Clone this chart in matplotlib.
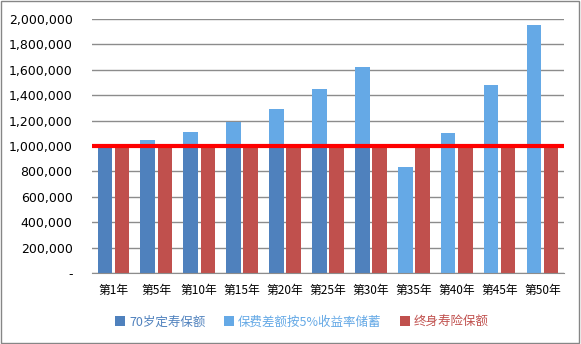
import numpy as np
import matplotlib.pyplot as plt
from matplotlib.patches import Rectangle

plt.rcParams['font.family'] = ['Noto Sans CJK SC', 'DejaVu Sans']

years = ['第1年', '第5年', '第10年', '第15年', '第20年', '第25年',
         '第30年', '第35年', '第40年', '第45年', '第50年']
term_cover = [1000000, 1000000, 1000000, 1000000, 1000000, 1000000, 1000000, 0, 0, 0, 0]
savings = [10000, 50000, 110000, 190000, 290000, 450000, 620000,
           835000, 1100000, 1480000, 1950000]
whole_life = [1000000] * 11
labels = ['70岁定寿保额', '保费差额按5%收益率储蓄', '终身寿险保额']
colors = ['#4F81BD', '#65A9E6', '#C0504D']

fig = plt.figure(figsize=(5.81, 3.44), dpi=100)
ax = fig.add_axes([0.1583, 0.2064, 0.8124, 0.7384])

x = np.arange(len(years))
w = 0.34
off = 0.2
b1 = ax.bar(x - off, term_cover, w, color=colors[0], label=labels[0], zorder=2)
b2 = ax.bar(x - off, savings, w, bottom=term_cover, color=colors[1], label=labels[1], zorder=2)
b3 = ax.bar(x + off, whole_life, w, color=colors[2], label=labels[2], zorder=2)
ax.axhline(1000000, color='#FF0000', lw=3, zorder=3)

ax.set_xlim(-0.5, len(years) - 0.5)
ax.set_ylim(0, 2000000)
ticks = np.arange(0, 2000001, 200000)
ax.set_yticks(ticks)
ax.set_yticklabels(['-'] + [f'{t:,}' for t in ticks[1:]], fontsize=9, family='DejaVu Sans')
ax.set_xticks(x)
ax.set_xticklabels(years, fontsize=8.5)
ax.tick_params(length=0, pad=14, axis='y')
ax.tick_params(length=0, pad=8, axis='x')
ax.yaxis.grid(True, color='#8C8C8C', lw=1, zorder=0)
for s in ['top', 'right', 'left']:
    ax.spines[s].set_visible(False)
ax.spines['bottom'].set_color('#8C8C8C')

leg = fig.legend(handles=[b1, b2, b3], labels=labels, loc='center', ncol=3,
                 bbox_to_anchor=(0.52, 0.064), frameon=False, fontsize=9,
                 handlelength=0.8, handleheight=0.8, handletextpad=0.3, columnspacing=1.5)
for t, c in zip(leg.get_texts(), colors):
    t.set_color(c)

fig.patches.append(Rectangle((0.002, 0.003), 0.995, 0.993, transform=fig.transFigure,
                             fill=False, edgecolor='#868686', lw=1))

fig.savefig('out.png', dpi=100)
